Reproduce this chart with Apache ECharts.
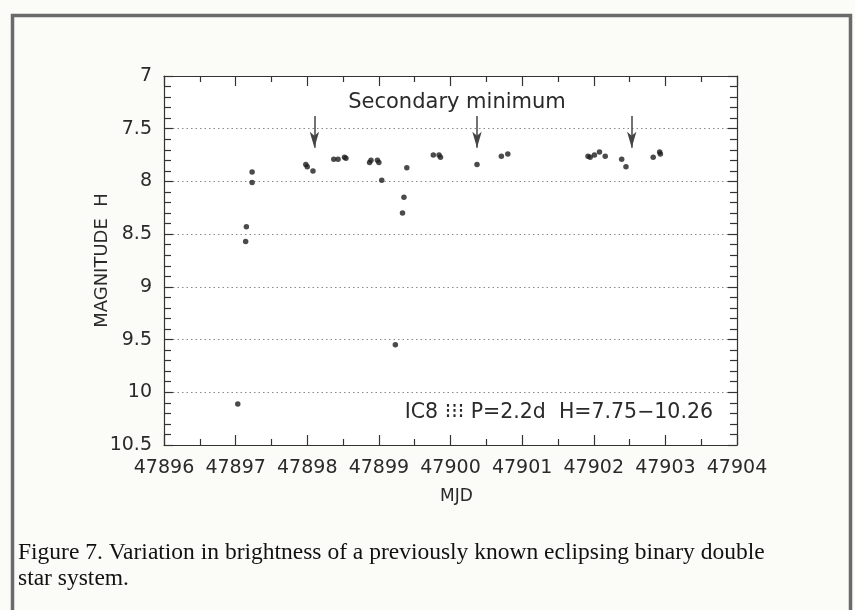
<!DOCTYPE html>
<html>
<head>
<meta charset="utf-8">
<script src="https://cdn.jsdelivr.net/npm/echarts@6/dist/echarts.min.js"></script>
<style>
  html, body { margin: 0; padding: 0; background: #fbfbf8; }
  #chart { width: 855px; height: 610px; }
</style>
</head>
<body>
<div id="chart"></div>
<script>
// Light curve of IC8: MJD vs H magnitude
const mjd = [
  47897.03, 47897.14, 47897.15, 47897.23, 47897.23,
  47897.98, 47898.00, 47898.08, 47898.37, 47898.43,
  47898.52, 47898.54, 47898.87, 47898.89, 47898.98,
  47899.00, 47899.04, 47899.23, 47899.33, 47899.35,
  47899.39, 47899.76, 47899.84, 47899.86, 47900.37,
  47900.71, 47900.80, 47901.92, 47901.95, 47902.01,
  47902.08, 47902.16, 47902.39, 47902.45, 47902.83,
  47902.92, 47902.93
];
const magH = [
  10.11, 8.57, 8.43, 7.91, 8.01,
  7.84, 7.86, 7.90, 7.79, 7.79,
  7.77, 7.78, 7.82, 7.80, 7.80,
  7.82, 7.99, 9.55, 8.30, 8.15,
  7.87, 7.75, 7.75, 7.77, 7.84,
  7.76, 7.74, 7.76, 7.77, 7.75,
  7.72, 7.76, 7.79, 7.86, 7.77,
  7.72, 7.74
];
// Predicted secondary minima (arrows)
const minimaMJD = [47898.1, 47900.37, 47902.53];
const arrowTop = 7.38;
const arrowTip = 7.68;

const xTicks = [47896, 47897, 47898, 47899, 47900, 47901, 47902, 47903, 47904];
const yTicks = [7, 7.5, 8, 8.5, 9, 9.5, 10, 10.5];

const points = mjd.map((x, i) => [x, magH[i]]);
const arrows = minimaMJD.map(x => [{ coord: [x, arrowTop] }, { coord: [x, arrowTip] }]);

const font = 'DejaVu Sans';
const ink = '#2a2a2a';

const axisCommon = {
  axisLine: { show: true, onZero: false, lineStyle: { color: '#333', width: 1.2 } },
  axisTick: { show: true, inside: true, length: 10, lineStyle: { color: '#333', width: 1.2 } },
  minorTick: { show: true, length: 6, lineStyle: { color: '#333', width: 1.2 } },
};

const chart = echarts.init(document.getElementById('chart'));
chart.setOption({
  backgroundColor: '#fbfbf8',
  animation: false,
  grid: { left: 164, top: 76, right: 118, bottom: 165, show: true, backgroundColor: '#ffffff', borderWidth: 0 },
  xAxis: [
    Object.assign({}, axisCommon, {
      type: 'value', min: xTicks[0], max: xTicks[xTicks.length - 1], interval: 1,
      position: 'bottom',
      minorTick: Object.assign({}, axisCommon.minorTick, { splitNumber: 2 }),
      axisLabel: { color: ink, fontFamily: font, fontSize: 19, margin: 14, formatter: v => String(v) },
      splitLine: { show: false },
      name: 'MJD', nameLocation: 'middle', nameGap: 43,
      nameTextStyle: { color: ink, fontFamily: font, fontSize: 17, padding: [0, 0, 0, 12] }
    }),
    Object.assign({}, axisCommon, {
      type: 'value', min: xTicks[0], max: xTicks[xTicks.length - 1], interval: 1,
      position: 'top',
      minorTick: Object.assign({}, axisCommon.minorTick, { splitNumber: 2 }),
      axisLabel: { show: false }, splitLine: { show: false }
    })
  ],
  yAxis: [
    Object.assign({}, axisCommon, {
      type: 'value', inverse: true, min: yTicks[0], max: yTicks[yTicks.length - 1], interval: 0.5,
      position: 'left',
      axisTick: Object.assign({}, axisCommon.axisTick, { length: 9 }),
      minorTick: Object.assign({}, axisCommon.minorTick, { splitNumber: 5, length: 7 }),
      axisLabel: { color: ink, fontFamily: font, fontSize: 19, margin: 12, formatter: v => String(v) },
      splitLine: { show: true, lineStyle: { color: '#8a8a8a', type: [1.5, 3], width: 1.2 } },
      name: 'MAGNITUDE  H', nameLocation: 'middle', nameGap: 53, nameRotate: 90,
      nameMoveOverlap: false,
      nameTextStyle: { color: ink, fontFamily: font, fontSize: 18 }
    }),
    Object.assign({}, axisCommon, {
      type: 'value', inverse: true, min: yTicks[0], max: yTicks[yTicks.length - 1], interval: 0.5,
      position: 'right',
      axisTick: Object.assign({}, axisCommon.axisTick, { length: 9 }),
      minorTick: Object.assign({}, axisCommon.minorTick, { splitNumber: 5, length: 7 }),
      axisLabel: { show: false }, splitLine: { show: false }
    })
  ],
  series: [{
    type: 'scatter',
    xAxisIndex: 0, yAxisIndex: 0,
    data: points,
    symbol: 'circle',
    symbolSize: 5.5,
    itemStyle: { color: '#1e1e1e' },
    markLine: {
      silent: true,
      symbol: ['none', 'arrow'],
      symbolSize: [7, 16],
      label: { show: false },
      lineStyle: { color: '#444', width: 1.5, type: 'solid' },
      data: arrows
    }
  }],
  graphic: [
    { type: 'rect', left: 10, top: 13, shape: { width: 838, height: 600 },
      style: { fill: 'none', stroke: '#6a6a6a', lineWidth: 3.5 }, z: -1 },
    { type: 'text', x: 457, y: 103,
      style: { text: 'Secondary minimum', font: '21px "DejaVu Sans"', fill: ink, textAlign: 'center', textVerticalAlign: 'middle' } },
    { type: 'text', x: 713, y: 413,
      style: { text: 'IC8 \u205D\u205D\u205D P=2.2d  H=7.75\u221210.26', font: '20.5px "DejaVu Sans"', fill: ink, textAlign: 'right', textVerticalAlign: 'middle' } },
    { type: 'text', x: 18, y: 553,
      style: { text: 'Figure 7. Variation in brightness of a previously known eclipsing binary double', font: '23.5px "Liberation Serif"', fill: '#111', textVerticalAlign: 'middle' } },
    { type: 'text', x: 18, y: 579,
      style: { text: 'star system.', font: '23.5px "Liberation Serif"', fill: '#111', textVerticalAlign: 'middle' } }
  ]
});
</script>
</body>
</html>
